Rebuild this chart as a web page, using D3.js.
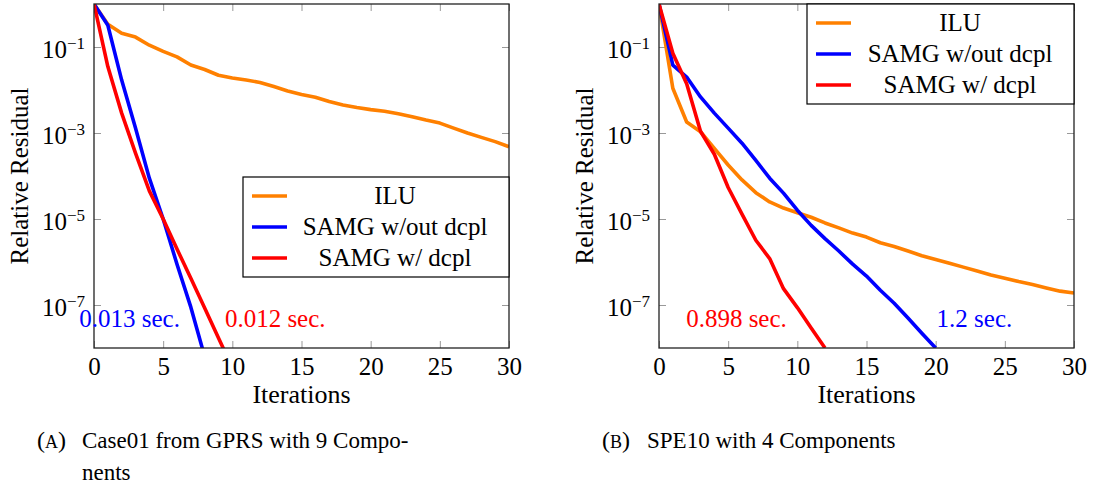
<!DOCTYPE html>
<html>
<head>
<meta charset="utf-8">
<script src="https://cdn.jsdelivr.net/npm/d3@7"></script>
<style>
  body { margin: 0; background: #fff; }
  svg text { font-family: "Liberation Serif", "DejaVu Serif", serif !important; fill: #000; }
</style>
</head>
<body>
<div id="chart"></div>
<script>
// series names, shared by both plots
var seriesNames = ["ILU", "SAMG w/out dcpl", "SAMG w/ dcpl"];

// relative residual per iteration (index = iteration)
// (a) Case01 from GPRS
var gprsILU = [1, 3.4e-1, 2.1e-1, 1.7e-1, 1.1e-1, 7.9e-2, 5.9e-2, 3.8e-2, 3.0e-2, 2.2e-2,
  1.9e-2, 1.7e-2, 1.5e-2, 1.2e-2, 9.5e-3, 7.9e-3, 6.8e-3, 5.4e-3, 4.5e-3, 3.9e-3,
  3.5e-3, 3.2e-3, 2.8e-3, 2.4e-3, 2.0e-3, 1.7e-3, 1.3e-3, 1.0e-3, 7.9e-4, 6.3e-4, 4.8e-4];
var gprsSamg = [1, 3.2e-1, 1.7e-2, 1.3e-3, 8.9e-5, 1.0e-5, 8.9e-7, 8.9e-8, 6.3e-9];
var gprsSamgDcpl = [1, 3.5e-2, 2.9e-3, 3.4e-4, 4.5e-5, 1.0e-5, 2.0e-6, 4.2e-7, 8.5e-8, 1.7e-8, 3.5e-9];

// (b) SPE10
var speILU = [1, 1.1e-2, 1.8e-3, 1.07e-3, 4.4e-4, 1.8e-4, 8.1e-5, 4.1e-5, 2.5e-5, 1.8e-5,
  1.4e-5, 1.1e-5, 8.1e-6, 6.2e-6, 4.7e-6, 3.8e-6, 2.8e-6, 2.3e-6, 1.8e-6, 1.4e-6,
  1.15e-6, 9.3e-7, 7.6e-7, 6.2e-7, 5.0e-7, 4.2e-7, 3.5e-7, 3.0e-7, 2.5e-7, 2.1e-7, 1.9e-7];
var speSamg = [1, 3.8e-2, 2.0e-2, 6.9e-3, 2.9e-3, 1.3e-3, 5.8e-4, 2.3e-4, 8.9e-5, 4.0e-5,
  1.6e-5, 7.1e-6, 3.5e-6, 1.8e-6, 8.9e-7, 4.7e-7, 2.2e-7, 1.1e-7, 5.0e-8, 2.2e-8, 1.0e-8];
var speSamgDcpl = [1, 7.2e-2, 1.4e-2, 1.1e-3, 3.2e-4, 5.4e-5, 1.3e-5, 3.2e-6, 1.2e-6, 2.4e-7,
  8.7e-8, 2.9e-8, 1.0e-8];

// axis ticks
var xTicks = [0, 5, 10, 15, 20, 25, 30];
var yTicks = [1e-1, 1e-3, 1e-5, 1e-7];
var yTickExps = ["\u22121", "\u22123", "\u22125", "\u22127"];

// timing notes
var gprsNotes = ["0.013 sec.", "0.012 sec."];
var speNotes = ["0.898 sec.", "1.2 sec."];

var colors = ["#ff8000", "#0000ff", "#ff0000"];
var serif = "'Liberation Serif', 'DejaVu Serif', serif";

var svg = d3.select("#chart")
  .append("svg")
  .attr("width", 1100)
  .attr("height", 489)
  .attr("font-family", serif);

svg.append("rect").attr("width", 1100).attr("height", 489).attr("fill", "#fff");

var plotW = 415;
var plotH = 344;

function drawPanel(id, left, top, data, notes, noteSpots, legendBox) {
  var g = svg.append("g").attr("transform", `translate(${left}, ${top})`);

  var x = d3.scaleLinear().domain([0, 30]).range([0, plotW]);
  var y = d3.scaleLog().domain([1e-8, 1]).range([plotH, 0]);

  g.append("clipPath").attr("id", "clip-" + id)
    .append("rect").attr("width", plotW).attr("height", plotH);

  // ticks (inside, on all four sides)
  var bottom = g.append("g")
    .attr("transform", `translate(0, ${plotH})`)
    .call(d3.axisBottom(x).tickValues(xTicks).tickSize(-7).tickPadding(9));
  var topAx = g.append("g")
    .call(d3.axisTop(x).tickValues(xTicks).tickSize(-7).tickFormat(""));
  var leftAx = g.append("g")
    .call(d3.axisLeft(y).tickValues(yTicks).tickSize(-7).tickPadding(9));
  var rightAx = g.append("g")
    .attr("transform", `translate(${plotW}, 0)`)
    .call(d3.axisRight(y).tickValues(yTicks).tickSize(-7).tickFormat(""));

  [bottom, topAx, leftAx, rightAx].forEach(function(a) {
    a.attr("font-family", serif).attr("font-size", 25);
    a.select(".domain").remove();
    a.selectAll("line").attr("stroke", "#999").attr("stroke-width", 1);
  });

  // 10^-k labels with superscript
  leftAx.selectAll(".tick text").each(function(d, i) {
    var t = d3.select(this).text("").attr("dy", "0.42em");
    t.append("tspan").text("10");
    t.append("tspan").attr("dy", -9).attr("font-size", 17).text(yTickExps[i]);
  });

  // series
  var line = d3.line()
    .x(function(d, i) { return x(i); })
    .y(function(d) { return y(d); });

  var lines = g.append("g").attr("clip-path", `url(#clip-${id})`);
  data.forEach(function(s, k) {
    lines.append("path")
      .attr("d", line(s))
      .attr("fill", "none")
      .attr("stroke", colors[k])
      .attr("stroke-width", 3.6)
      .attr("stroke-linejoin", "round");
  });

  // frame
  g.append("rect")
    .attr("width", plotW).attr("height", plotH)
    .attr("fill", "none").attr("stroke", "#222").attr("stroke-width", 1.3);

  // timing notes
  notes.forEach(function(n, k) {
    g.append("text")
      .attr("x", x(noteSpots[k][0]))
      .attr("y", y(noteSpots[k][1]))
      .attr("text-anchor", "middle")
      .attr("font-size", 25)
      .style("fill", noteSpots[k][2])
      .text(n);
  });

  // legend
  var lg = g.append("g").attr("transform", `translate(${legendBox.x}, ${legendBox.y})`);
  lg.append("rect")
    .attr("width", legendBox.w).attr("height", 100)
    .attr("fill", "#fff").attr("stroke", "#000").attr("stroke-width", 1.2);
  seriesNames.forEach(function(name, k) {
    var ry = 19 + k * 31;
    lg.append("line")
      .attr("x1", 9).attr("x2", 44).attr("y1", ry).attr("y2", ry)
      .attr("stroke", colors[k]).attr("stroke-width", 3.6);
    lg.append("text")
      .attr("x", legendBox.tx).attr("y", ry + 8)
      .attr("text-anchor", "middle")
      .attr("font-size", 25)
      .text(name);
  });

  // axis titles
  g.append("text")
    .attr("x", plotW / 2).attr("y", plotH + 55)
    .attr("text-anchor", "middle")
    .attr("font-size", 26)
    .text("Iterations");
  g.append("text")
    .attr("transform", "rotate(-90)")
    .attr("x", -plotH / 2).attr("y", -66)
    .attr("text-anchor", "middle")
    .attr("font-size", 25)
    .text("Relative Residual");
}

drawPanel("a", 94, 4, [gprsILU, gprsSamg, gprsSamgDcpl], gprsNotes,
  [[2.57, 3.1e-8, "#0000ff"], [13.1, 3.1e-8, "#ff0000"]],
  {x: 149, y: 173, w: 266, tx: 152});

drawPanel("b", 659, 4, [speILU, speSamg, speSamgDcpl], speNotes,
  [[5.6, 3.1e-8, "#ff0000"], [22.8, 3.1e-8, "#0000ff"]],
  {x: 148, y: 0, w: 267, tx: 153});

// captions
function caption(xp, letter, line1, line2) {
  var t = svg.append("text").attr("x", xp).attr("y", 448).attr("font-size", 24);
  t.append("tspan").text("(");
  t.append("tspan").attr("font-size", 18).text(letter);
  t.append("tspan").text(")");
  svg.append("text").attr("x", xp + 45).attr("y", 448).attr("font-size", 23).text(line1);
  if (line2) {
    svg.append("text").attr("x", xp + 45).attr("y", 480).attr("font-size", 23).text(line2);
  }
}
caption(37, "A", "Case01 from GPRS with 9 Compo-", "nents");
caption(602, "B", "SPE10 with 4 Components", null);
</script>
</body>
</html>
